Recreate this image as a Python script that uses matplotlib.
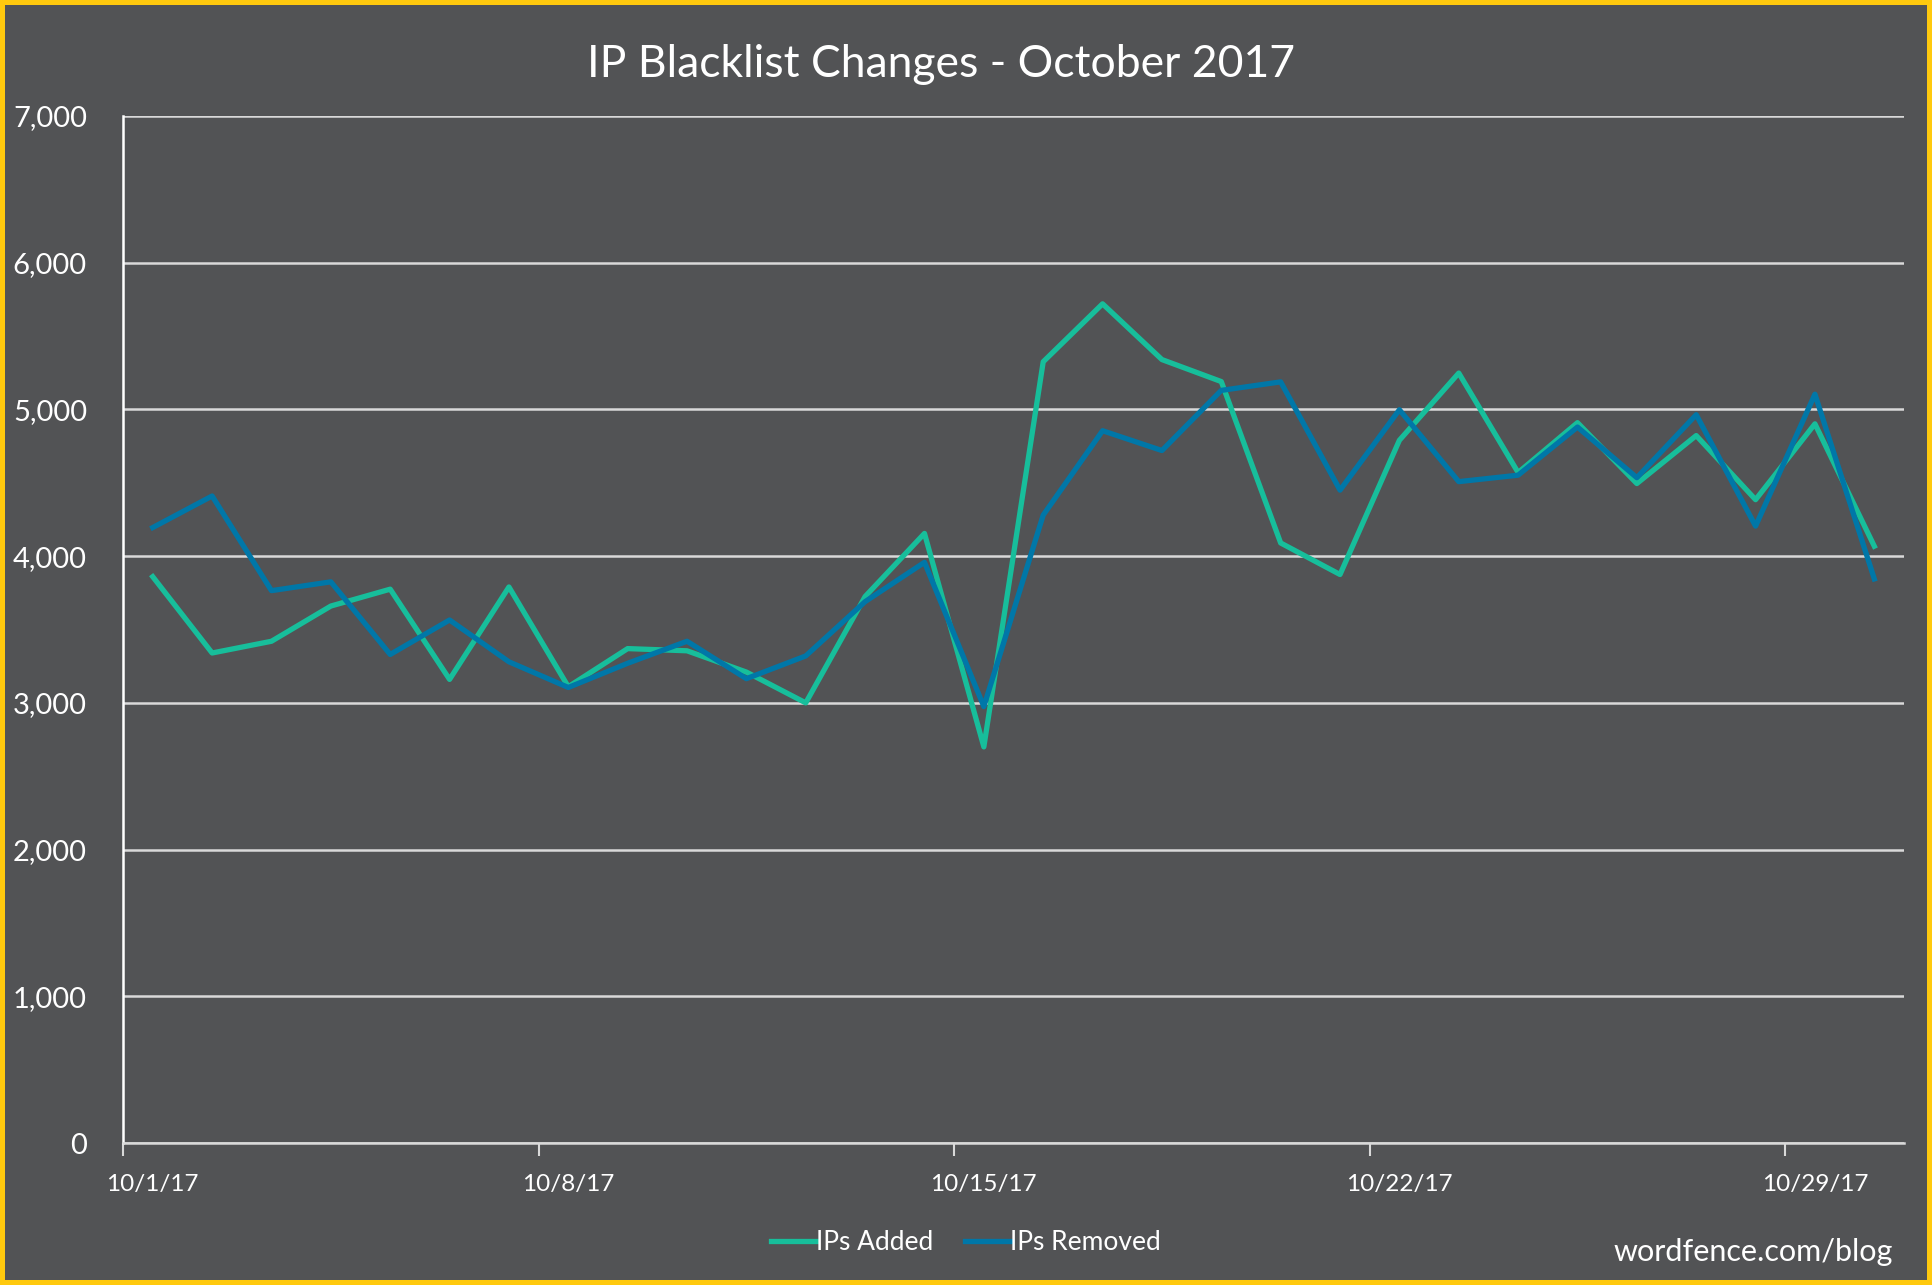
import matplotlib
matplotlib.use("Agg")
from matplotlib import pyplot as plt
import numpy as np

# データ (10/1/17 - 10/30/17)
days = ["10/%d/17" % d for d in range(1, 31)]
ips_added = [3860, 3340, 3420, 3660, 3775, 3160, 3790, 3110, 3370, 3355,
             3210, 3000, 3725, 4155, 2700, 5325, 5720, 5340, 5190, 4090,
             3875, 4790, 5248, 4570, 4910, 4495, 4822, 4385, 4902, 4068]
ips_removed = [4195, 4410, 3765, 3825, 3330, 3565, 3280, 3105, 3270, 3420,
               3165, 3320, 3690, 3958, 2975, 4280, 4855, 4720, 5130, 5188,
               4450, 4998, 4508, 4552, 4880, 4535, 4964, 4205, 5104, 3845]
yticks = [0, 1000, 2000, 3000, 4000, 5000, 6000, 7000]

bg = "#525355"
green = "#17BE9B"
blue = "#0077A8"
grid = "#D9D9D9"
font_main = ["Lato", "DejaVu Sans"]

fig = plt.figure(figsize=(19.32, 12.85), dpi=100)
fig.patch.set_facecolor(bg)
fig.patch.set_edgecolor("#FFC90E")
fig.patch.set_linewidth(6)

ax = fig.add_axes([0.0637, 0.1105, 0.9218, 0.7992])
ax.set_facecolor(bg)

x = np.arange(len(days))
ax.plot(x, ips_added, color=green, lw=3.8, label="IPs Added")
ax.plot(x, ips_removed, color=blue, lw=3.8, label="IPs Removed")

ax.set_xlim(-0.5, len(days) - 0.5)
ax.set_ylim(0, 7000)
ax.set_yticks(yticks)
ax.set_yticklabels(["{:,}".format(v) for v in yticks], fontsize=21, color="white", family=font_main)
ax.yaxis.grid(True, color=grid, lw=1.8)
ax.set_axisbelow(True)
ax.tick_params(axis="y", length=0, pad=26)

# ラベルは週ごと、目盛り線は区切り位置
ax.set_xticks(x[::7])
ax.set_xticklabels([days[i] for i in x[::7]], fontsize=17.5, color="white", family=font_main)
ax.set_xticks(x[::7] - 0.5, minor=True)
ax.tick_params(axis="x", which="major", length=0, pad=22)
ax.tick_params(axis="x", which="minor", length=9, width=1.5, color=grid, direction="out")

for s in ["top", "right"]:
    ax.spines[s].set_visible(False)
ax.spines["left"].set_color("white")
ax.spines["left"].set_linewidth(1.8)
ax.spines["bottom"].set_color(grid)
ax.spines["bottom"].set_linewidth(1.8)

fig.text(0.487, 0.950, "IP Blacklist Changes - October 2017", ha="center", va="center",
         fontsize=32, color="white", family=font_main)

leg = fig.legend(loc="center", bbox_to_anchor=(0.5, 0.0327), ncol=2, frameon=False,
                 prop={"family": font_main, "size": 19}, handlelength=1.7,
                 handletextpad=0.0, columnspacing=1.2)
for t in leg.get_texts():
    t.set_color("white")

fig.text(0.98, 0.026, "wordfence.com/blog", ha="right", va="center",
         fontsize=22, color="white", family=font_main)

fig.savefig("out.png", dpi=100, facecolor=bg, edgecolor=fig.get_edgecolor())
plt.close()
